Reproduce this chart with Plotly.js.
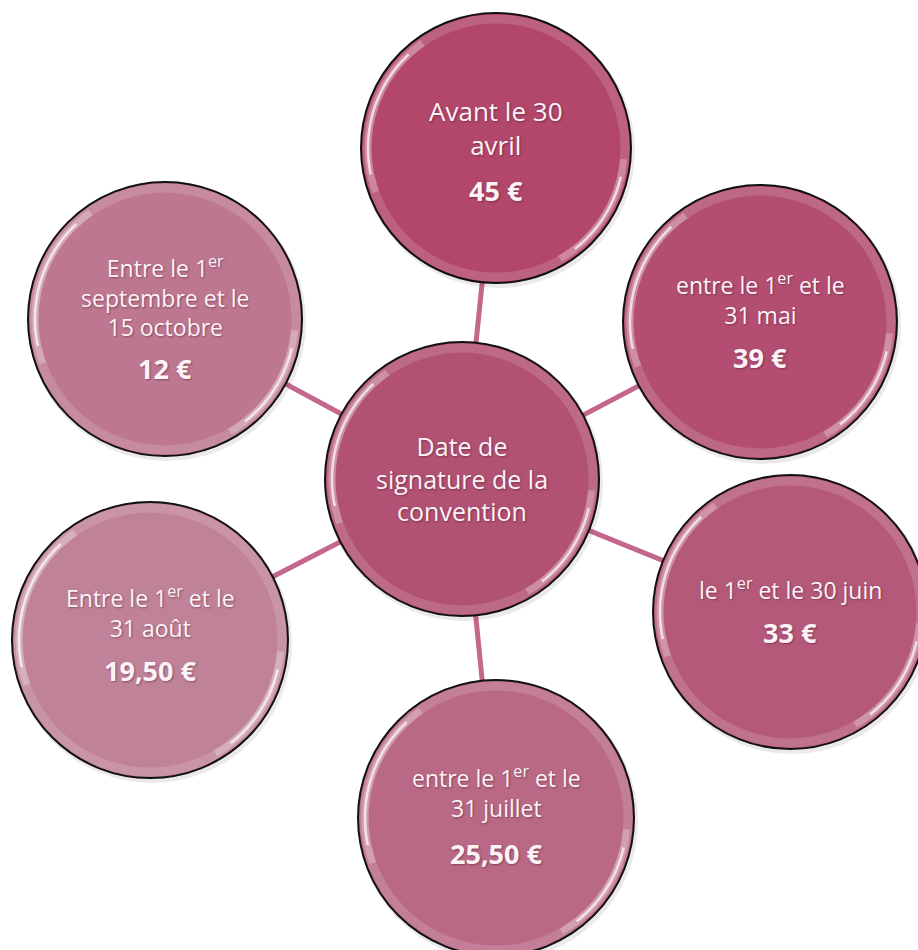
<!DOCTYPE html>
<html>
<head>
<meta charset="utf-8">
<script src="https://cdn.plot.ly/plotly-3.0.1.min.js"></script>
<style>html,body{margin:0;padding:0;background:#fff;}#chart{width:918px;height:950px;}</style>
</head>
<body>
<div id="chart"></div>
<script>
// ---- data ----
const centerLabel = "Date de<br>signature de la<br>convention";
const periods = [
  "Avant le 30<br>avril",
  "entre le 1<sup>er</sup> et le<br>31 mai",
  "le 1<sup>er</sup> et le 30 juin",
  "entre le 1<sup>er</sup> et le<br>31 juillet",
  "Entre le 1<sup>er</sup> et le<br>31 août",
  "Entre le 1<sup>er</sup><br>septembre et le<br>15 octobre"
];
const prices = [45, 39, 33, 25.5, 19.5, 12];

// ---- layout (diagram geometry, pixel space) ----
const hubX = 462, hubY = 479, hubR = 137;
const nodeX = [496, 760, 790, 496, 150, 165];
const nodeY = [148, 322, 612, 818, 640, 319];
const nodeR = [135, 137, 137, 138, 138, 137];
const labelDy = [-20, -23, -23, -26, -28, -23];
const priceDy = [42, 35, 20, 35, 30, 49];
const labelSize = [26, 23, 23, 23, 23, 23];
const priceSize = [27, 27, 27, 27, 27, 27];
const hubSize = 25;
const hubColor = "#B15173";
const nodeColors = ["#B2466B", "#B34E72", "#B5597B", "#B96985", "#C08299", "#BE7791"];
const linkColor = "#C4678C";
const textColor = "#FDF3F7";
const FONT = "'Open Sans', Lato, sans-serif";

function fmtPrice(v) {
  const s = Number.isInteger(v) ? String(v) : v.toFixed(2).replace(".", ",");
  return "<b>" + s + " €</b>";
}

// connectors
const lx = [], ly = [];
nodeX.forEach((x, i) => { lx.push(hubX, x, null); ly.push(hubY, nodeY[i], null); });
const links = {
  type: "scatter", mode: "lines", x: lx, y: ly,
  line: {color: linkColor, width: 5}, hoverinfo: "skip", showlegend: false
};

const allX = [hubX].concat(nodeX);
const allY = [hubY].concat(nodeY);
const allR = [hubR].concat(nodeR);
const allC = [hubColor].concat(nodeColors);

// soft shadow
const shadow = {
  type: "scatter", mode: "markers", x: allX.map(v => v + 2), y: allY.map(v => v + 3),
  marker: {size: allR.map(r => 2 * r + 4), color: "rgba(90,60,70,0.16)", line: {width: 0}},
  hoverinfo: "skip", showlegend: false
};

const circles = {
  type: "scatter", mode: "markers", x: allX, y: allY,
  marker: {size: allR.map(r => 2 * r), sizemode: "diameter", color: allC,
           line: {color: "#111", width: 2}, opacity: 1},
  hoverinfo: "skip", showlegend: false
};

function arcPath(cx, cy, r, a0, a1) {
  const n = 40; let p = "";
  for (let k = 0; k <= n; k++) {
    const a = (a0 + (a1 - a0) * k / n) * Math.PI / 180;
    p += (k ? " L " : "M ") + (cx + r * Math.cos(a)).toFixed(2) + " " + (cy + r * Math.sin(a)).toFixed(2);
  }
  return p;
}

const shapes = [];
allX.forEach((cx, i) => {
  const cy = allY[i], r = allR[i];
  // lighter inner rim band
  shapes.push({type: "circle", xref: "x", yref: "y", x0: cx - r + 6, x1: cx + r - 6, y0: cy - r + 6, y1: cy + r - 6,
    line: {color: "rgba(255,255,255,0.15)", width: 9}, fillcolor: "rgba(0,0,0,0)", layer: "above"});
  // glossy highlights (soft halo + bright core)
  [[160, 235], [5, 60]].forEach(([a0, a1]) => {
    shapes.push({type: "path", xref: "x", yref: "y", path: arcPath(cx, cy, r - 7, a0, a1),
      line: {color: "rgba(255,255,255,0.25)", width: 7}, layer: "above"});
    shapes.push({type: "path", xref: "x", yref: "y", path: arcPath(cx, cy, r - 7, a0 + 8, a1 - 8),
      line: {color: "rgba(255,255,255,0.7)", width: 2.5}, layer: "above"});
  });
});

const shadowTxt = "1px 1px 2px rgba(60,20,40,0.45)";
const annotations = [{
  x: hubX, y: hubY - 1, text: centerLabel, showarrow: false, xanchor: "center", yanchor: "middle",
  font: {family: FONT, size: hubSize, color: textColor, shadow: shadowTxt}
}];
periods.forEach((t, i) => {
  annotations.push({x: nodeX[i], y: nodeY[i] + labelDy[i], text: t, showarrow: false,
    xanchor: "center", yanchor: "middle",
    font: {family: FONT, size: labelSize[i], color: textColor, shadow: shadowTxt}});
  annotations.push({x: nodeX[i], y: nodeY[i] + priceDy[i], text: fmtPrice(prices[i]), showarrow: false,
    xanchor: "center", yanchor: "middle",
    font: {family: FONT, size: priceSize[i], color: textColor, shadow: shadowTxt}});
});

const layout = {
  width: 918, height: 950, margin: {l: 0, r: 0, t: 0, b: 0},
  paper_bgcolor: "#fff", plot_bgcolor: "#fff",
  xaxis: {range: [0, 918], visible: false, fixedrange: true},
  yaxis: {range: [950, 0], visible: false, fixedrange: true},
  shapes: shapes, annotations: annotations, showlegend: false
};

Plotly.newPlot("chart", [links, shadow, circles], layout, {staticPlot: true, displayModeBar: false});
</script>
</body>
</html>
